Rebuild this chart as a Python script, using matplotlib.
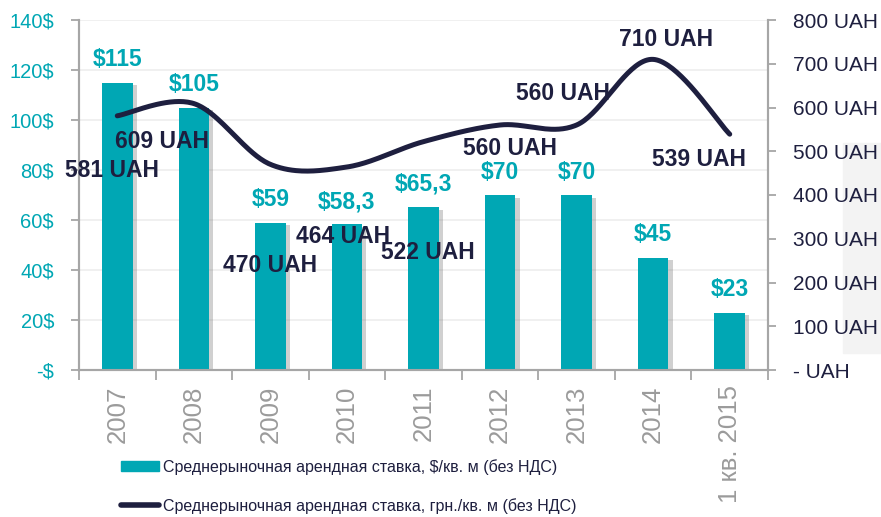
import numpy as np
import matplotlib
matplotlib.use('Agg')
import matplotlib.pyplot as plt
import matplotlib.patheffects as pe
from matplotlib.patches import Rectangle
from matplotlib.lines import Line2D

# data
years = ['2007', '2008', '2009', '2010', '2011', '2012', '2013', '2014', '1 кв. 2015']
usd_rate = [115, 105, 59, 58.3, 65.3, 70, 70, 45, 23]
usd_labels = ['$115', '$105', '$59', '$58,3', '$65,3', '$70', '$70', '$45', '$23']
uah_rate = [581, 609, 470, 464, 522, 560, 560, 710, 539]
uah_labels = ['%d UAH' % v for v in uah_rate]

# label offsets (points) for the UAH labels, as placed in the original
uah_offsets = [(-4, -39.5), (-23, -27.5), (0, -72.5), (-3, -50), (3, -80), (7, -17), (-10, 22.5), (9, 14), (-22, -18.5)]

teal = '#00A7B4'
navy = '#1E1F3F'
grey = '#A6A6A6'

plt.rcParams['font.family'] = ['Liberation Sans', 'DejaVu Sans']

fig = plt.figure(figsize=(8.81, 5.17), dpi=100)
ax = fig.add_axes([79 / 881, 147 / 517, 689 / 881, 350 / 517])
ax2 = ax.twinx()

x = np.arange(len(years))

# bars with a soft shadow
bars = ax.bar(x, usd_rate, width=0.4, color=teal, zorder=3)
for b in bars:
    b.set_path_effects([pe.SimplePatchShadow(offset=(3, -2), shadow_rgbFace='#666666', alpha=0.3), pe.Normal()])

for xi, v, s in zip(x, usd_rate, usd_labels):
    ax.annotate(s, (xi, v), xytext=(0, 8), textcoords='offset points', ha='center', va='bottom',
                color=teal, fontsize=16.5, fontweight='bold', zorder=5)


# smoothed line (Excel-like Catmull-Rom / Bezier)
def smooth(xs, ys, n=40):
    pts = np.column_stack([xs, ys]).astype(float)
    pts = np.vstack([pts[0], pts, pts[-1]])
    out = []
    for i in range(1, len(pts) - 2):
        p0, p1, p2, p3 = pts[i - 1], pts[i], pts[i + 1], pts[i + 2]
        c1 = p1 + (p2 - p0) / 6
        c2 = p2 - (p3 - p1) / 6
        t = np.linspace(0, 1, n)[:, None]
        seg = (1 - t) ** 3 * p1 + 3 * (1 - t) ** 2 * t * c1 + 3 * (1 - t) * t ** 2 * c2 + t ** 3 * p2
        out.append(seg if i == 1 else seg[1:])
    out = np.vstack(out)
    return out[:, 0], out[:, 1]


sx, sy = smooth(x, uah_rate)
ax2.plot(sx, sy, color=navy, lw=3.6, solid_capstyle='round', zorder=4)

for xi, v, s, off in zip(x, uah_rate, uah_labels, uah_offsets):
    ax2.annotate(s, (xi, v), xytext=off, textcoords='offset points', ha='center', va='center',
                 color=navy, fontsize=16.5, fontweight='bold', zorder=6)

# axes
ax.set_xlim(-0.5, len(years) - 0.5)
ax.set_ylim(0, 140)
ax2.set_ylim(0, 800)
ax.set_yticks(range(0, 141, 20))
ax.set_yticklabels(['-$' if v == 0 else '%d$' % v for v in range(0, 141, 20)])
ax2.set_yticks(range(0, 801, 100))
ax2.set_yticklabels(['- UAH' if v == 0 else '%d UAH' % v for v in range(0, 801, 100)])

ax.set_xticks(x)
ax.set_xticklabels(years, rotation=90, va='top', ha='center')
ax.set_xticks(np.arange(-0.5, len(years), 1), minor=True)
ax.tick_params(axis='x', which='major', length=0, pad=11, labelsize=18.5, labelcolor='#9B9B9B')
ax.tick_params(axis='x', which='minor', length=7, width=1.3, color=grey)
ax.tick_params(axis='y', length=6, width=1.3, color=grey, labelsize=14.5, labelcolor=teal, pad=12)
ax2.tick_params(axis='y', length=6, width=1.3, color=grey, labelsize=15, labelcolor=navy, pad=12)

ax.grid(axis='y', color='#EDEDED', lw=1.2, zorder=0)
for a in (ax, ax2):
    a.spines['top'].set_visible(False)
    for s in ('left', 'right', 'bottom'):
        a.spines[s].set_color(grey)
        a.spines[s].set_linewidth(1.5)
ax2.set_zorder(ax.get_zorder() + 1)
ax2.patch.set_visible(False)

# faint grey panel at the right edge
fig.patches.append(Rectangle((843 / 881, 164 / 517), 38 / 881, 210 / 517, transform=fig.transFigure,
                             color='#F3F3F3', zorder=-1))

# legend
handles = [Rectangle((0, 0), 1, 1, color=teal), Line2D([], [], color=navy, lw=4, solid_capstyle='round')]
labels = ['Среднерыночная арендная ставка, $/кв. м (без НДС)',
          'Среднерыночная арендная ставка, грн./кв. м (без НДС)']
fig.legend(handles, labels, loc='upper left', bbox_to_anchor=(121 / 881, 1 - 459 / 517), frameon=False,
           fontsize=11.5, labelcolor=navy, handlelength=2.4, handleheight=0.6, handletextpad=0.25,
           labelspacing=1.45, borderaxespad=0, borderpad=0)

fig.savefig('out.png', dpi=100)
